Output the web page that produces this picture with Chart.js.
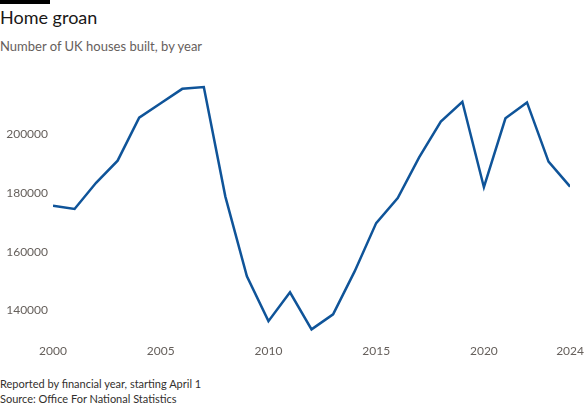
<!DOCTYPE html>
<html>
<head>
<meta charset="utf-8">
<script src="https://cdn.jsdelivr.net/npm/chart.js@4/dist/chart.umd.min.js"></script>
<style>
  html, body { margin: 0; padding: 0; background: #fff; }
  body { width: 588px; height: 420px; position: relative; overflow: hidden; font-family: Lato, "Open Sans", sans-serif; }
  .bar { position: absolute; left: 0; top: 0; width: 50px; height: 4px; background: #000; }
  .title { position: absolute; left: 0; top: 6px; font-size: 18px; color: #1a1817; }
  .subtitle { position: absolute; left: 0; top: 38px; font-size: 13px; color: #66605c; }
  .chart { position: absolute; left: 0; top: 60px; width: 588px; height: 302px; }
  .notes { position: absolute; left: 0; top: 376px; font-size: 11px; line-height: 15px; color: #33302e; }
</style>
</head>
<body>
<div class="bar"></div>
<div class="title">Home groan</div>
<div class="subtitle">Number of UK houses built, by year</div>
<div class="chart"><canvas id="myChart"></canvas></div>
<div class="notes">Reported by financial year, starting April 1<br>Source: Office For National Statistics</div>
<script>
    /* Data */

var years = [2000, 2001, 2002, 2003, 2004, 2005, 2006, 2007, 2008, 2009, 2010, 2011, 2012,
             2013, 2014, 2015, 2016, 2017, 2018, 2019, 2020, 2021, 2022, 2023, 2024];
var houses = [175600, 174500, 183400, 190900, 205500, 210400, 215300, 215900, 178700, 151600, 136400, 146200, 133600,
              138700, 153300, 169700, 178200, 192100, 204200, 210900, 181900, 205300, 210700, 190600, 182100];
var xTicks = [2000, 2005, 2010, 2015, 2020, 2024];
var yTicks = [140000, 160000, 180000, 200000];

    /* Chart */

var points = years.map(function (y, i) { return { x: y, y: houses[i] }; });
var tickFont = { family: "Lato, 'Open Sans', sans-serif", size: 12 };

const ctx = document.getElementById('myChart').getContext('2d');
const myChart = new Chart(ctx, {
    type: 'line',
    data: {
        datasets: [{
            data: points,
            borderColor: '#0f5499',
            borderWidth: 2.5,
            pointRadius: 0,
            tension: 0,
            fill: false
        }]
    },
    options: {
        responsive: true,
        maintainAspectRatio: false,
        animation: false,
        layout: { padding: { top: 15, right: 17, left: 0, bottom: 0 } },
        plugins: {
            legend: { display: false },
            tooltip: { enabled: false }
        },
        scales: {
            x: {
                type: 'linear',
                min: 2000,
                max: 2024,
                grid: { display: false, drawTicks: false },
                border: { display: false },
                ticks: { color: '#66605c', font: tickFont, padding: 4, maxRotation: 0, callback: function (v) { return String(v); } },
                afterBuildTicks: function (axis) { axis.ticks = xTicks.map(function (v) { return { value: v }; }); },
                afterFit: function (axis) { axis.height = 22; }
            },
            y: {
                min: 130000,
                max: 220000,
                grid: { display: false, drawTicks: false },
                border: { display: false },
                ticks: { color: '#66605c', font: tickFont, padding: 5, callback: function (v) { return String(v); } },
                afterBuildTicks: function (axis) { axis.ticks = yTicks.map(function (v) { return { value: v }; }); },
                afterFit: function (axis) { axis.width = 53; }
            }
        }
    }
});
</script>
</body>
</html>
